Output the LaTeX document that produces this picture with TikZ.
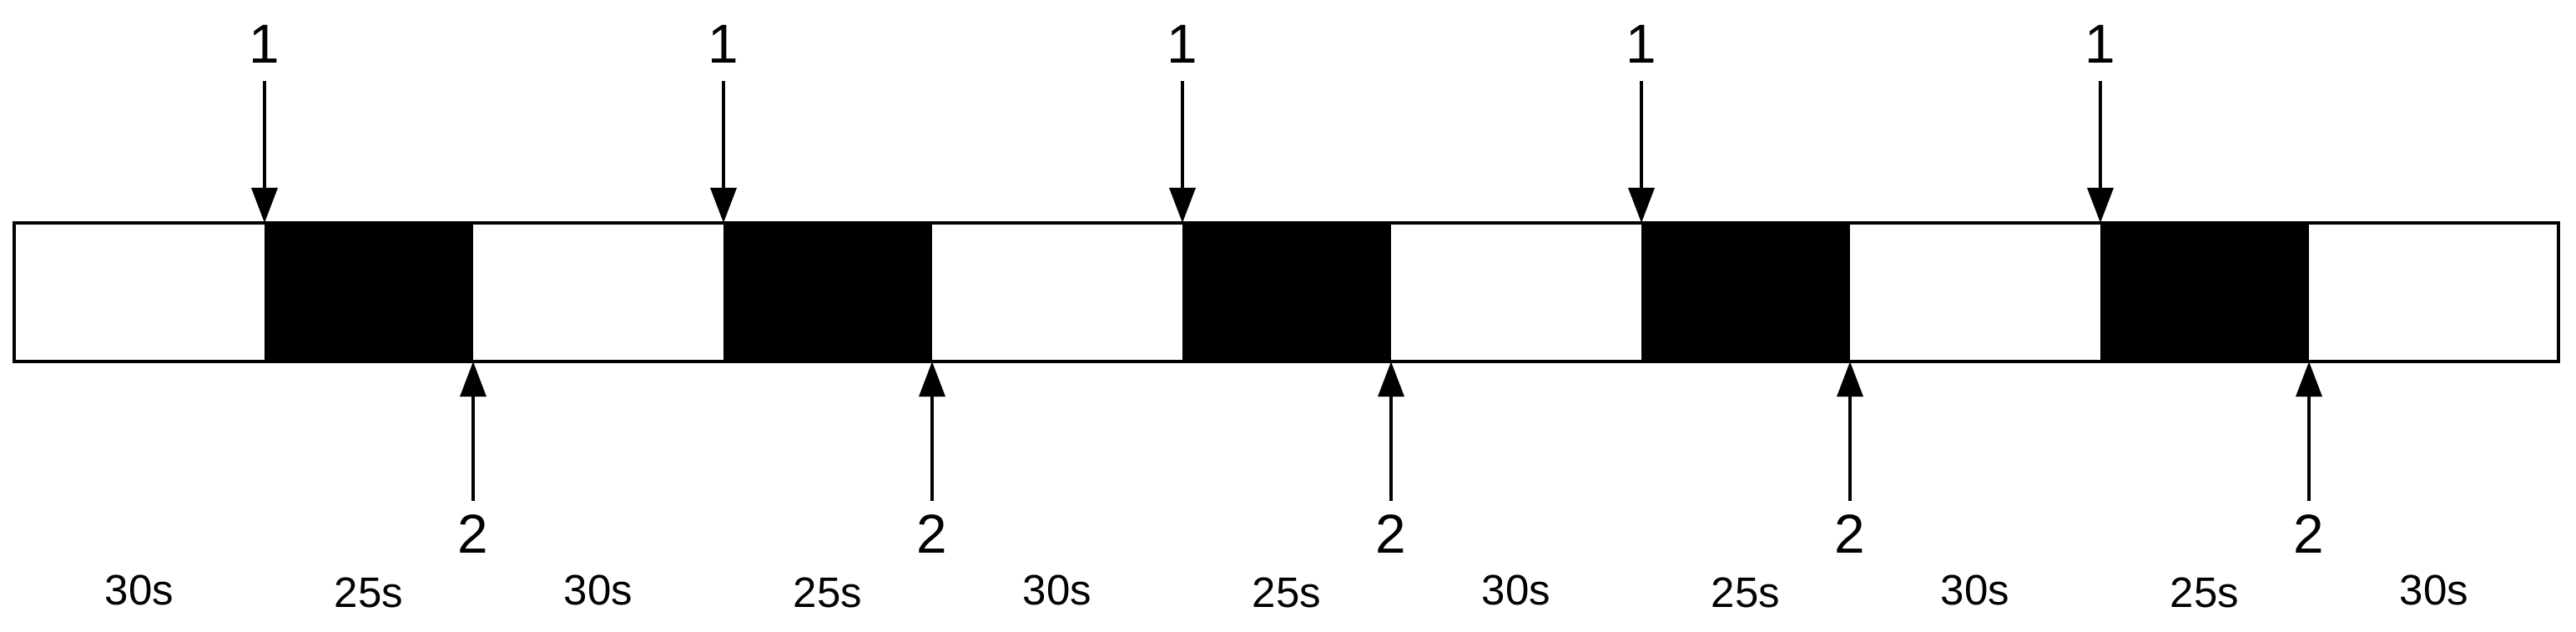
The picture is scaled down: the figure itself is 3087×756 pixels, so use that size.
\documentclass[tikz,border=0pt]{standalone}
\usepackage{fontspec}
\setmainfont{Liberation Sans}
\usetikzlibrary{arrows.meta}
\tikzset{
  arr/.style={line width=1.15pt, -{Triangle[width=8.8pt,length=12pt]}},
  barline/.style={line width=1.15pt},
  blockfill/.style={fill=black},
  toplabel/.style={font=\fontsize{18.7}{22}\selectfont, inner xsep=0pt, inner ysep=6pt},
  botlabel/.style={font=\fontsize{18.7}{22}\selectfont, inner xsep=0pt, inner ysep=4.7pt},
  timelabel/.style={font=\fontsize{14.5}{17}\selectfont, inner sep=0pt}
}
\begin{document}
\begin{tikzpicture}[x=0.01cm,y=-0.01cm]
\useasboundingbox (0,0) rectangle (3087,756);
\foreach \i in {0,...,4} {
  \pgfmathsetmacro{\xs}{317+550*\i}
  \pgfmathsetmacro{\xe}{567+550*\i}
  \fill[blockfill] (\xs,267) rectangle (\xe,433);
  \coordinate (t\i) at (\xs,267);
  \coordinate (b\i) at (\xe,433);
  \node[toplabel] (la\i) at (\xs,52.5) {1};
  \node[botlabel] (lb\i) at (\xe,640) {2};
  \draw[arr] (la\i) -- (t\i);
  \draw[arr] (lb\i) -- (b\i);
  \pgfmathsetmacro{\xq}{442+550*\i}
  \node[timelabel] (d\i) at (\xq,710) {25s};
}
\foreach \i in {0,...,5} {
  \pgfmathsetmacro{\xw}{167+550*\i}
  \node[timelabel] (w\i) at (\xw,706.5) {30s};
}
\draw[barline] (17,267) rectangle (3066,433);
\end{tikzpicture}
\end{document}
